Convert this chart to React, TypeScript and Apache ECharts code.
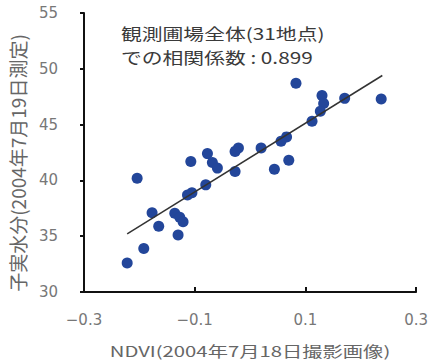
import React, { useEffect, useRef } from "react";
import * as echarts from "echarts";

const ndvi = [
  0.083, 0.130, 0.133, 0.127, 0.112, 0.171, 0.237, 0.066, 0.056,
  -0.107, -0.077, -0.068, -0.059, -0.021, -0.027, -0.027, 0.020, 0.044, 0.070,
  -0.080, -0.113, -0.105, -0.204, -0.177, -0.165, -0.136, -0.127, -0.121, -0.130,
  -0.192, -0.222,
];
const moisture = [
  48.7, 47.6, 46.9, 46.2, 45.3, 47.35, 47.3, 43.9, 43.5,
  41.7, 42.4, 41.6, 41.1, 42.9, 42.6, 40.8, 42.9, 41.0, 41.8,
  39.6, 38.7, 38.9, 40.2, 37.1, 35.9, 37.05, 36.7, 36.3, 35.1,
  33.9, 32.6,
];
const trendX = [-0.222, 0.239];
const trendY = [35.2, 49.4];
const xTicks = [-0.3, -0.1, 0.1, 0.3];
const annotation = ["観測圃場全体(31地点)", "での相関係数 : 0.899"];
const xName = "NDVI(2004年7月18日撮影画像)";
const yName = "子実水分(2004年7月19日測定)";

const FONT = "'Noto Sans CJK JP', 'Noto Sans', sans-serif";
const NUMFONT = "'DejaVu Sans', sans-serif";

export default function App() {
  const ref = useRef<HTMLDivElement>(null);
  useEffect(() => {
    if (!ref.current) return;
    const chart = echarts.init(ref.current, undefined, { renderer: "svg" });
    chart.setOption({
      animation: false,
      backgroundColor: "#ffffff",
      grid: { left: 84, right: 8, top: 13, bottom: 68 },
      xAxis: {
        type: "value",
        min: -0.3,
        max: 0.3,
        splitLine: { show: false },
        axisLine: { onZero: false, lineStyle: { color: "#111", width: 2 } },
        axisTick: { inside: true, length: 5, customValues: xTicks, lineStyle: { color: "#111", width: 2 } },
        axisLabel: {
          customValues: xTicks,
          margin: 20,
          color: "#777",
          fontSize: 15,
          fontFamily: NUMFONT,
          formatter: (v: number) => (v < 0 ? "\u2212" + Math.abs(v).toFixed(1) : v.toFixed(1)),
        },
      },
      yAxis: {
        type: "value",
        min: 30,
        max: 55,
        interval: 5,
        splitLine: { show: false },
        axisLine: { show: true, onZero: false, lineStyle: { color: "#111", width: 2 } },
        axisTick: { show: true, length: 4, lineStyle: { color: "#111", width: 2 } },
        axisLabel: { margin: 26, color: "#777", fontSize: 15, fontFamily: NUMFONT },
      },
      graphic: [
        {
          type: "text",
          x: 121,
          y: 33,
          scaleX: 1.3,
          style: {
            text: annotation[0],
            fill: "#3a3a3a",
            font: `16px ${FONT}`,
            textVerticalAlign: "middle",
          },
        },
        {
          type: "text",
          x: 121,
          y: 57,
          scaleX: 1.3,
          style: {
            text: annotation[1],
            fill: "#3a3a3a",
            font: `16px ${FONT}`,
            textVerticalAlign: "middle",
          },
        },
        {
          type: "text",
          x: 250,
          y: 351,
          scaleX: 1.4,
          style: {
            text: xName,
            fill: "#666",
            font: `14.5px ${FONT}`,
            textAlign: "center",
            textVerticalAlign: "middle",
          },
        },
        {
          type: "text",
          x: 17,
          y: 163,
          rotation: Math.PI / 2,
          style: {
            text: yName,
            fill: "#666",
            font: `19px ${FONT}`,
            textAlign: "center",
            textVerticalAlign: "middle",
          },
        },
      ],
      series: [
        {
          type: "line",
          data: trendX.map((x, i) => [x, trendY[i]]),
          symbol: "none",
          lineStyle: { color: "#333", width: 1.5 },
          z: 3,
        },
        {
          type: "scatter",
          data: ndvi.map((x, i) => [x, moisture[i]]),
          symbolSize: 11,
          itemStyle: { color: "#23469a", opacity: 1 },
          z: 2,
        },
      ],
    });
    return () => chart.dispose();
  }, []);
  return <div ref={ref} style={{ width: 431, height: 360, position: "absolute", left: 0, top: 0 }} />;
}
